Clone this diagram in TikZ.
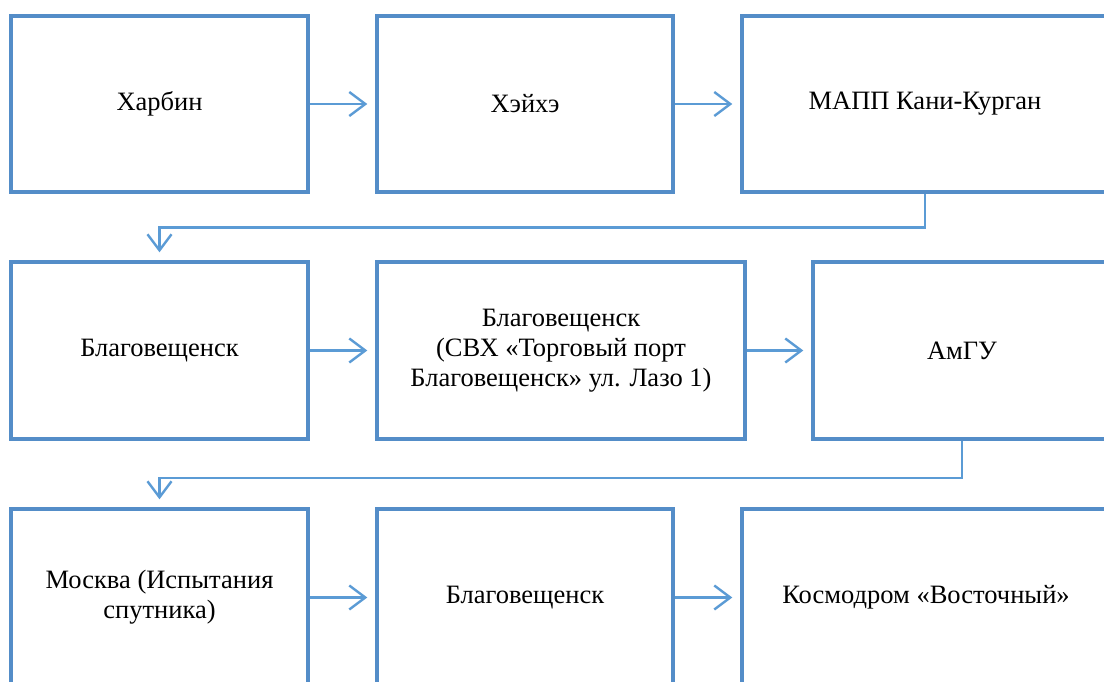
\documentclass[tikz,border=0pt]{standalone}
\usepackage{fontspec}
\setmainfont{Liberation Serif}
\usetikzlibrary{arrows.meta}
\definecolor{boxblue}{RGB}{84,141,200}
\definecolor{linkblue}{RGB}{91,155,213}
\begin{document}
\begin{tikzpicture}[x=1pt,y=-1pt,
  stage/.style={draw=boxblue,line width=3.4pt,rectangle,align=center,
    font=\fontsize{26.5}{30}\selectfont,inner sep=0pt},
  link/.style={draw=linkblue,line width=2.4pt,
    -{Straight Barb[length=16pt,width=24pt]},shorten >=8pt}]
\clip (0,0) rectangle (1104,682);
\fill[white] (0,0) rectangle (1104,682);
% row 1
\node[stage,minimum width=297pt,minimum height=176pt] (a1) at (159.5,104) {Харбин};
\node[stage,minimum width=296pt,minimum height=176pt] (a2) at (525,104) {Хэйхэ};
\node[stage,minimum width=366pt,minimum height=176pt] (a3) at (925,104) {МАПП Кани-Курган};
% row 2
\node[stage,minimum width=297pt,minimum height=177pt] (b1) at (159.5,350.5) {Благовещенск};
\node[stage,minimum width=368pt,minimum height=177pt] (b2) at (561,350.5) {Благовещенск\\(СВХ «Торговый порт\\Благовещенск» ул. Лазо 1)};
\node[stage,minimum width=298pt,minimum height=177pt] (b3) at (962,350.5) {АмГУ};
% row 3
\node[stage,minimum width=297pt,minimum height=177pt] (c1) at (159.5,597.5) {Москва (Испытания\\спутника)};
\node[stage,minimum width=296pt,minimum height=177pt] (c2) at (525,597.5) {Благовещенск};
\node[stage,minimum width=368pt,minimum height=177pt] (c3) at (926,597.5) {Космодром «Восточный»};
% connectors
\draw[link] (a1.east) -- (a2.west);
\draw[link] (a2.east) -- (a3.west);
\draw[link] (a3.south) -- ++(0,34) -| (b1.north);
\draw[link] (b1.east) -- (b2.west);
\draw[link] (b2.east) -- (b3.west);
\draw[link] (b3.south) -- ++(0,37) -| (c1.north);
\draw[link] (c1.east) -- (c2.west);
\draw[link] (c2.east) -- (c3.west);
\end{tikzpicture}
\end{document}
